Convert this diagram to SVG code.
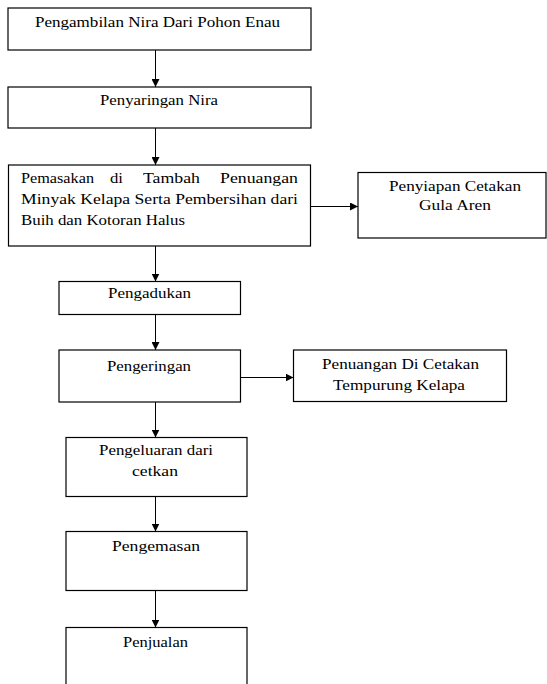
<svg xmlns="http://www.w3.org/2000/svg" width="547" height="684" viewBox="0 0 547 684">
<defs>
<style>
rect.box{fill:#fff;stroke:#000;stroke-width:1.2}
text{font-family:'Liberation Serif','Times New Roman',serif;font-size:14px;fill:#000}
.c line{stroke:#000;stroke-width:1}
</style>
<marker id="ah" markerWidth="8" markerHeight="8" refX="8" refY="4" orient="auto" markerUnits="userSpaceOnUse">
<path d="M0,0 L8,4 L0,8 Z" fill="#000"/>
</marker>
</defs>
<rect width="547" height="684" fill="#fff"/>
<g id="n1">
<rect class="box" x="8" y="8" width="303" height="42"/>
<text x="35" y="27" textLength="245" lengthAdjust="spacingAndGlyphs">Pengambilan Nira Dari Pohon Enau</text>
</g>
<g id="n2">
<rect class="box" x="8" y="87" width="303" height="41"/>
<text x="100" y="105" textLength="118" lengthAdjust="spacingAndGlyphs">Penyaringan Nira</text>
</g>
<g id="n3">
<rect class="box" x="8.5" y="165" width="302" height="81"/>
<text x="21" y="183" textLength="73" lengthAdjust="spacingAndGlyphs">Pemasakan</text>
<text x="110" y="183" textLength="13" lengthAdjust="spacingAndGlyphs">di</text>
<text x="143" y="183" textLength="57" lengthAdjust="spacingAndGlyphs">Tambah</text>
<text x="220" y="183" textLength="78" lengthAdjust="spacingAndGlyphs">Penuangan</text>
<text x="21" y="204" textLength="277" lengthAdjust="spacingAndGlyphs">Minyak Kelapa Serta Pembersihan dari</text>
<text x="21" y="225" textLength="164" lengthAdjust="spacingAndGlyphs">Buih dan Kotoran Halus</text>
</g>
<g id="n4">
<rect class="box" x="358" y="172.5" width="188" height="65.5"/>
<text x="389" y="191" textLength="132" lengthAdjust="spacingAndGlyphs">Penyiapan Cetakan</text>
<text x="419" y="210" textLength="72" lengthAdjust="spacingAndGlyphs">Gula Aren</text>
</g>
<g id="n5">
<rect class="box" x="59" y="281.5" width="181.5" height="33"/>
<text x="108" y="298" textLength="83" lengthAdjust="spacingAndGlyphs">Pengadukan</text>
</g>
<g id="n6">
<rect class="box" x="59" y="350" width="181.5" height="52"/>
<text x="107" y="370.5" textLength="84" lengthAdjust="spacingAndGlyphs">Pengeringan</text>
</g>
<g id="n7">
<rect class="box" x="293.5" y="350" width="213" height="51.5"/>
<text x="322" y="368.5" textLength="157" lengthAdjust="spacingAndGlyphs">Penuangan Di Cetakan</text>
<text x="333" y="389.5" textLength="132" lengthAdjust="spacingAndGlyphs">Tempurung Kelapa</text>
</g>
<g id="n8">
<rect class="box" x="66" y="437.5" width="181" height="59"/>
<text x="99" y="455" textLength="114" lengthAdjust="spacingAndGlyphs">Pengeluaran dari</text>
<text x="132" y="476" textLength="46" lengthAdjust="spacingAndGlyphs">cetkan</text>
</g>
<g id="n9">
<rect class="box" x="66" y="531.5" width="181" height="59"/>
<text x="112" y="551" textLength="88" lengthAdjust="spacingAndGlyphs">Pengemasan</text>
</g>
<g id="n10">
<rect class="box" x="66" y="627.5" width="181" height="70"/>
<text x="123" y="646.5" textLength="65" lengthAdjust="spacingAndGlyphs">Penjualan</text>
</g>
<g id="connectors" class="c">
<line x1="155.5" y1="50" x2="155.5" y2="87" marker-end="url(#ah)"/>
<line x1="155.5" y1="128" x2="155.5" y2="165" marker-end="url(#ah)"/>
<line x1="155.5" y1="246" x2="155.5" y2="281.5" marker-end="url(#ah)"/>
<line x1="155.5" y1="314.5" x2="155.5" y2="350" marker-end="url(#ah)"/>
<line x1="155.5" y1="402" x2="155.5" y2="437.5" marker-end="url(#ah)"/>
<line x1="155.5" y1="496.5" x2="155.5" y2="531.5" marker-end="url(#ah)"/>
<line x1="155.5" y1="590.5" x2="155.5" y2="627.5" marker-end="url(#ah)"/>
<line x1="310.5" y1="206.5" x2="358" y2="206.5" marker-end="url(#ah)"/>
<line x1="240.5" y1="377.5" x2="293.5" y2="377.5" marker-end="url(#ah)"/>
</g>
</svg>
